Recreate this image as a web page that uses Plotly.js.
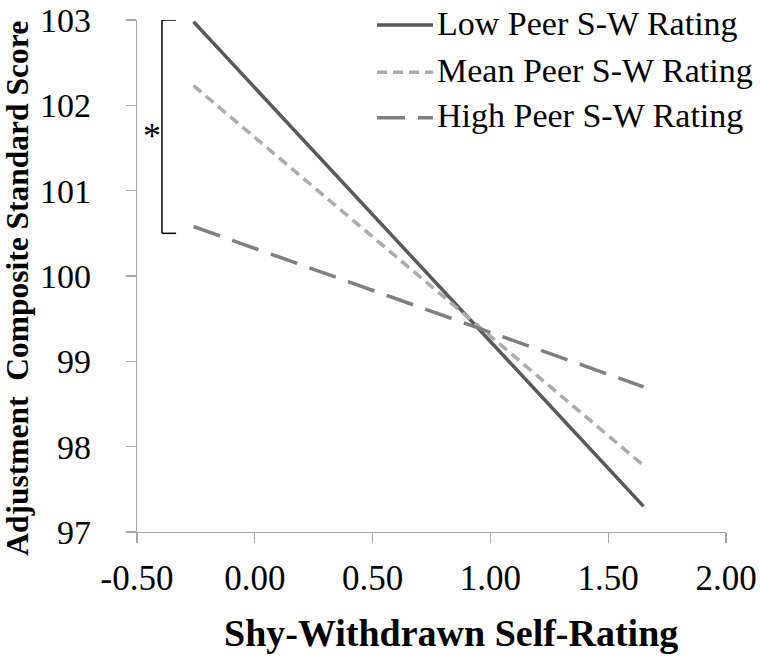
<!DOCTYPE html>
<html>
<head>
<meta charset="utf-8">
<script src="https://cdn.plot.ly/plotly-3.0.1.min.js"></script>
<style>html,body{margin:0;padding:0;background:#fff;}#chart{width:760px;height:662px;}</style>
</head>
<body>
<div id="chart"></div>
<script>
var seriesNames = ["Low Peer S-W Rating", "Mean Peer S-W Rating", "High Peer S-W Rating"];
var selfRating = [-0.26, 1.65];
var lowPeer = [102.98, 97.30];
var meanPeer = [102.23, 97.78];
var highPeer = [100.58, 98.70];
var xTickVals = [-0.5, 0, 0.5, 1, 1.5, 2];
var xTickText = ["-0.50", "0.00", "0.50", "1.00", "1.50", "2.00"];
var yTickVals = [97, 98, 99, 100, 101, 102, 103];
var bracketY = [100.5, 103];
var xTitle = "Shy-Withdrawn Self-Rating";
var yTitle = "Adjustment  Composite Standard Score";

var serif = "Liberation Serif, Times New Roman, serif";
var colors = ["#595959", "#ababab", "#7f7f7f"];
var dashes = ["solid", "10px,6px", "28px,13px"];
var values = [lowPeer, meanPeer, highPeer];

var traces = values.map(function (v, i) {
  return {
    x: selfRating, y: v, type: "scatter", mode: "lines",
    name: seriesNames[i], showlegend: false,
    line: {color: colors[i], width: 3.5, dash: dashes[i]}
  };
});

var legendRows = [0.990, 0.898, 0.809];
var shapes = [
  {type: "line", xref: "x", yref: "y", x0: -0.394, x1: -0.394, y0: bracketY[0], y1: bracketY[1], line: {color: "#000", width: 1.5}},
  {type: "line", xref: "x", yref: "y", x0: -0.394, x1: -0.334, y0: bracketY[1], y1: bracketY[1], line: {color: "#000", width: 1.5}},
  {type: "line", xref: "x", yref: "y", x0: -0.394, x1: -0.334, y0: bracketY[0], y1: bracketY[0], line: {color: "#000", width: 1.5}}
];
var annotations = [
  {xref: "x", yref: "y", x: -0.436, y: 101.64, text: "*", showarrow: false,
   font: {family: serif, size: 36, color: "#000"}},
  {xref: "paper", yref: "paper", x: 0.533, y: -0.197, text: "<b>" + xTitle + "</b>", showarrow: false,
   xanchor: "center", yanchor: "middle", font: {family: serif, size: 38, color: "#000"}},
  {xref: "paper", yref: "paper", x: -0.202, y: 0.475, text: "<b>" + yTitle + "</b>", showarrow: false, textangle: -90,
   xanchor: "center", yanchor: "middle", font: {family: serif, size: 31.5, color: "#000"}}
];
seriesNames.forEach(function (n, i) {
  shapes.push({type: "line", xref: "paper", yref: "paper", x0: 0.4075, x1: 0.5025, y0: legendRows[i], y1: legendRows[i],
    line: {color: colors[i], width: 3.5, dash: dashes[i]}});
  annotations.push({xref: "paper", yref: "paper", x: 0.506, y: legendRows[i] + 0.004, text: n, showarrow: false,
    xanchor: "left", yanchor: "middle", font: {family: serif, size: 34, color: "#000"}});
});

var layout = {
  width: 760, height: 662,
  margin: {l: 137, r: 34, t: 20, b: 130},
  paper_bgcolor: "#fff", plot_bgcolor: "#fff",
  font: {family: serif, color: "#000"},
  showlegend: false,
  xaxis: {
    range: [-0.5, 2], tickvals: xTickVals, ticktext: xTickText,
    showgrid: false, zeroline: false, showline: true, linecolor: "#a6a6a6", linewidth: 1.2,
    ticks: "outside", ticklen: 10, tickcolor: "#a6a6a6", tickwidth: 1.2,
    tickfont: {family: serif, size: 35, color: "#000"}, ticklabelstandoff: 5
  },
  yaxis: {
    range: [97, 103], tickvals: yTickVals,
    showgrid: false, zeroline: false, showline: true, linecolor: "#a6a6a6", linewidth: 1.2,
    ticks: "outside", ticklen: 10, tickcolor: "#a6a6a6", tickwidth: 1.2,
    tickfont: {family: serif, size: 34, color: "#000"}, ticklabelstandoff: 28
  },
  shapes: shapes,
  annotations: annotations
};

Plotly.newPlot("chart", traces, layout, {displayModeBar: false, staticPlot: true});
</script>
</body>
</html>
